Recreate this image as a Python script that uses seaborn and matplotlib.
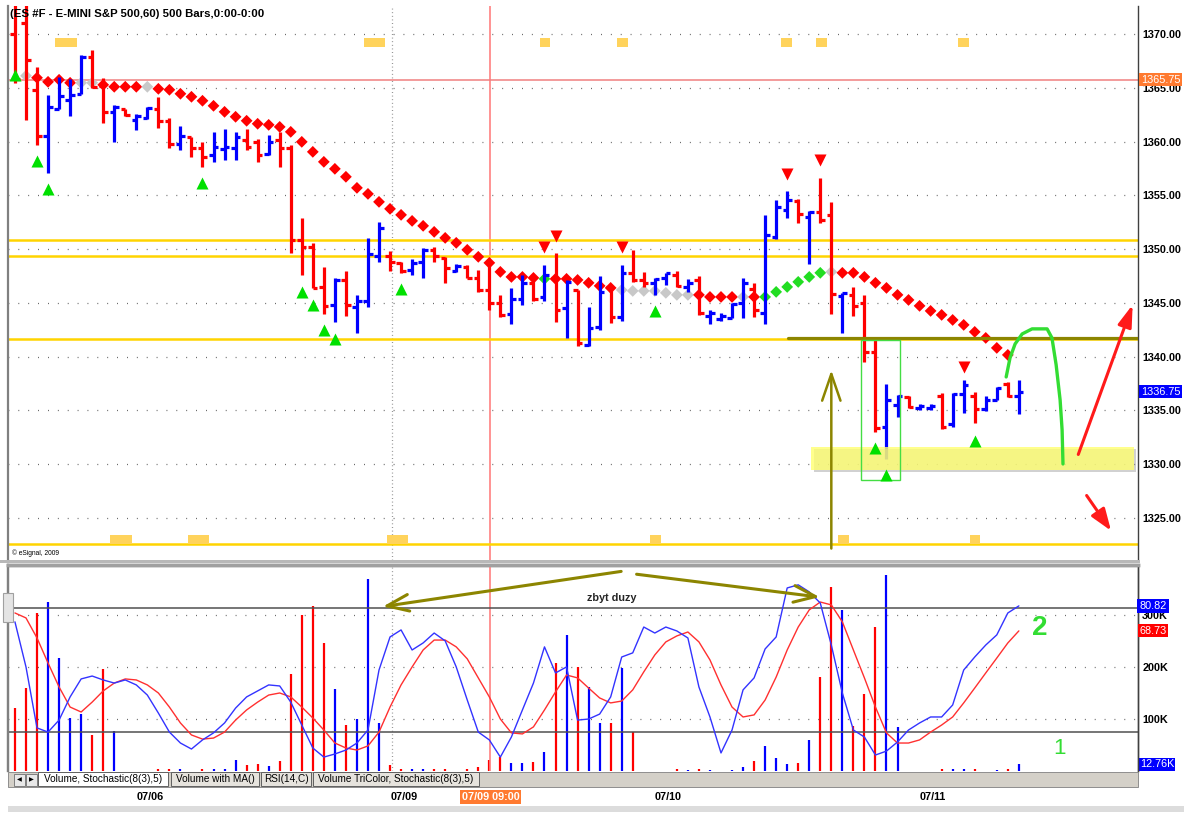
import numpy as np
import pandas as pd
import matplotlib.pyplot as plt
import matplotlib.patches as mpatches
import matplotlib.transforms as mtransforms
import seaborn as sns

sns.set_theme(style="white")
plt.rcParams['font.family'] = ['Liberation Sans', 'DejaVu Sans']

# ---------------- data (hourly bars, ES #F) ----------------
opens = [1370.0, 1371.0, 1364.8, 1360.5, 1363.0, 1363.9, 1364.4, 1367.9, 1365.2, 1362.7,
         1363.0, 1362.0, 1362.2, 1363.0, 1361.9, 1359.8, 1360.4, 1359.4, 1358.7, 1359.3,
         1359.4, 1360.1, 1360.0, 1358.8, 1360.1, 1359.4, 1350.8, 1350.2, 1346.5, 1344.8,
         1347.1, 1344.6, 1345.2, 1349.4, 1349.4, 1348.7, 1348.1, 1348.8, 1349.9, 1349.2,
         1348.0, 1348.3, 1347.3, 1346.2, 1345.0, 1344.0, 1345.4, 1346.8, 1345.5, 1347.3,
         1344.5, 1346.2, 1341.1, 1342.8, 1346.5, 1343.7, 1347.8, 1347.1, 1346.8, 1347.3,
         1347.6, 1346.5, 1347.1, 1343.8, 1343.5, 1343.6, 1345.0, 1346.3, 1344.1, 1351.1,
         1353.6, 1354.5, 1353.0, 1353.4, 1353.2, 1345.6, 1345.7, 1345.0, 1340.4, 1333.5,
         1335.5, 1336.2, 1335.2, 1335.2, 1336.3, 1333.7, 1336.5, 1336.3, 1335.1, 1336.0,
         1337.5, 1336.3]
highs = [1373.0, 1373.0, 1366.9, 1364.3, 1366.0, 1365.8, 1368.0, 1368.5, 1365.9, 1363.4,
         1363.0, 1362.6, 1363.2, 1364.1, 1362.2, 1361.4, 1360.4, 1360.0, 1360.9, 1361.2,
         1360.9, 1361.2, 1360.2, 1360.6, 1360.9, 1359.7, 1352.9, 1350.6, 1348.3, 1347.3,
         1348.0, 1345.7, 1351.0, 1352.5, 1349.8, 1348.8, 1349.1, 1350.1, 1350.2, 1349.3,
         1348.6, 1348.5, 1348.1, 1349.0, 1345.7, 1346.4, 1347.6, 1347.4, 1348.5, 1349.6,
         1347.1, 1346.2, 1344.6, 1347.5, 1346.5, 1348.5, 1349.9, 1347.9, 1347.3, 1347.8,
         1348.0, 1347.2, 1347.5, 1344.3, 1344.1, 1345.0, 1347.3, 1346.8, 1353.2, 1354.6,
         1355.4, 1354.7, 1353.5, 1356.6, 1354.4, 1345.9, 1346.5, 1345.7, 1341.5, 1337.5,
         1336.4, 1336.3, 1335.6, 1335.6, 1336.6, 1336.6, 1337.8, 1336.7, 1336.3, 1337.2,
         1337.6, 1337.8]
lows = [1365.4, 1362.0, 1359.7, 1357.1, 1363.0, 1362.4, 1364.4, 1365.0, 1361.7, 1360.0,
        1362.4, 1361.1, 1362.1, 1361.3, 1359.4, 1359.2, 1358.6, 1357.6, 1358.1, 1358.3,
        1358.3, 1359.2, 1358.1, 1358.7, 1357.6, 1349.6, 1347.6, 1346.4, 1344.0, 1343.2,
        1343.8, 1342.2, 1344.6, 1348.8, 1348.0, 1347.8, 1347.6, 1347.3, 1348.8, 1346.8,
        1347.9, 1347.3, 1346.0, 1344.3, 1343.7, 1343.0, 1344.8, 1345.2, 1345.2, 1343.2,
        1341.7, 1341.0, 1341.0, 1342.5, 1343.1, 1343.3, 1346.9, 1346.5, 1345.7, 1346.7,
        1346.5, 1346.0, 1343.9, 1343.0, 1343.3, 1343.6, 1343.6, 1343.7, 1343.0, 1350.9,
        1352.9, 1352.4, 1348.6, 1352.4, 1344.0, 1342.2, 1343.8, 1339.5, 1333.0, 1330.5,
        1334.4, 1335.2, 1335.0, 1335.0, 1333.3, 1333.5, 1334.8, 1333.8, 1334.9, 1336.0,
        1336.2, 1334.7]
closes = [1365.8, 1367.6, 1360.5, 1363.2, 1364.2, 1364.3, 1367.9, 1365.1, 1362.7, 1363.2,
          1362.5, 1362.4, 1363.1, 1361.9, 1359.8, 1360.5, 1359.4, 1358.6, 1359.5, 1359.5,
          1360.4, 1359.5, 1358.7, 1360.0, 1359.4, 1350.8, 1350.2, 1346.4, 1344.7, 1347.1,
          1344.8, 1345.2, 1349.5, 1352.0, 1348.8, 1348.0, 1348.7, 1349.9, 1349.4, 1348.2,
          1348.4, 1347.3, 1346.2, 1345.0, 1343.9, 1345.4, 1346.8, 1345.4, 1347.6, 1344.3,
          1346.9, 1341.3, 1342.7, 1346.0, 1343.7, 1347.8, 1347.1, 1346.8, 1347.2, 1347.8,
          1346.6, 1346.8, 1344.1, 1344.1, 1343.8, 1344.9, 1346.8, 1344.3, 1351.3, 1353.9,
          1354.6, 1353.3, 1353.4, 1352.7, 1345.8, 1345.9, 1344.7, 1340.4, 1333.4, 1336.0,
          1336.3, 1335.3, 1335.4, 1335.4, 1333.5, 1336.5, 1337.4, 1335.1, 1336.0, 1337.1,
          1336.3, 1336.75]

# volume in thousands
volume_k = [121, 160, 304, 325, 217, 102, 110, 69, 196, 77,
            0, 0, 0, 4, 4, 3, 0, 3, 3, 4,
            21, 12, 13, 10, 19, 187, 300, 317, 246, 158,
            88, 100, 369, 92, 12, 3, 3, 3, 3, 3,
            0, 3, 8, 21, 27, 15, 15, 17, 37, 208,
            262, 200, 162, 92, 92, 198, 75, 0, 0, 0,
            3, 2, 4, 2, 0, 2, 8, 19, 48, 25,
            13, 15, 60, 181, 354, 310, 87, 148, 277, 377,
            85, 0, 0, 0, 3, 3, 3, 3, 0, 2,
            3, 12.76]

stoch_k = [73.1, 51.3, 21.8, 19.8, 25.6, 36.8, 45.5, 46.9, 45.0, 43.5,
           45.0, 42.6, 37.7, 29.0, 19.8, 14.5, 11.6, 16.0, 19.4, 24.2,
           31.4, 36.8, 39.7, 42.6, 42.1, 34.3, 23.2, 12.1, 7.7, 9.2,
           11.1, 14.5, 20.8, 49.8, 65.8, 69.2, 59.5, 62.9, 67.7, 63.9,
           51.3, 35.3, 19.8, 16.0, 7.7, 17.4, 30.5, 43.5, 61.0, 48.4,
           51.3, 25.6, 26.1, 28.5, 36.8, 56.1, 58.1, 70.6, 67.7, 70.6,
           68.7, 65.3, 41.6, 27.1, 9.7, 20.8, 40.2, 46.0, 60.0, 65.8,
           89.5, 91.0, 87.6, 82.2, 61.9, 38.7, 20.8, 17.4, 8.7, 10.6,
           15.0, 20.8, 24.2, 27.1, 27.1, 32.9, 49.8, 56.1, 61.9, 66.8,
           77.4, 80.82]
stoch_d = [77.4, 75.0, 65.3, 53.2, 41.6, 31.9, 29.5, 34.3, 39.7, 43.5,
           45.5, 45.0, 42.6, 38.7, 31.9, 24.2, 18.4, 16.4, 16.9, 19.8,
           25.6, 30.5, 34.3, 37.7, 38.7, 36.8, 31.9, 26.6, 20.8, 14.5,
           12.1, 11.1, 13.1, 19.8, 31.9, 42.6, 51.3, 59.5, 64.3, 64.3,
           61.0, 55.2, 46.0, 36.8, 26.1, 19.4, 18.9, 22.3, 30.5, 39.2,
           47.4, 46.0, 41.1, 36.3, 33.9, 34.8, 40.2, 48.9, 57.1, 63.4,
           66.3, 68.2, 63.4, 54.7, 42.6, 31.9, 27.1, 28.1, 35.3, 46.4,
           59.5, 70.6, 78.9, 82.7, 81.3, 73.1, 59.5, 46.0, 31.9, 19.4,
           14.5, 14.5, 16.0, 19.8, 23.2, 27.1, 33.9, 41.1, 48.4, 55.6,
           62.9, 68.73]

# parabolic stop dots for bars 1..90 (r = short, g = long, n = neutral)
sar_price = [1366.11, 1365.93, 1365.55, 1365.74, 1365.46, 1365.46, 1365.46, 1365.27, 1365.09, 1365.09,
             1365.09, 1365.09, 1364.90, 1364.81, 1364.44, 1364.16, 1363.79, 1363.32, 1362.76, 1362.30,
             1361.93, 1361.65, 1361.55, 1361.36, 1360.90, 1359.97, 1359.04, 1358.11, 1357.46, 1356.72,
             1355.69, 1355.13, 1354.39, 1353.74, 1353.18, 1352.62, 1352.16, 1351.60, 1351.04, 1350.58,
             1349.93, 1349.28, 1348.72, 1347.88, 1347.41, 1347.41, 1347.32, 1347.23, 1347.23, 1347.23,
             1347.13, 1346.86, 1346.58, 1346.39, 1346.20, 1346.11, 1346.11, 1346.11, 1345.93, 1345.74,
             1345.74, 1345.74, 1345.55, 1345.55, 1345.55, 1345.55, 1345.55, 1345.55, 1346.02, 1346.48,
             1346.95, 1347.41, 1347.79, 1347.88, 1347.79, 1347.79, 1347.41, 1346.86, 1346.39, 1345.74,
             1345.27, 1344.72, 1344.25, 1343.88, 1343.41, 1342.95, 1342.30, 1341.74, 1340.81, 1340.16]
sar_state = ("nrrrrnnrrrrn"
             "rrrrrrrrrrrrrrrrrrrrrrrrrrrrrrrrrrr"
             "grrrrrrnnnnnnnrrrrnr"
             "ggggggn"
             "rrrrrrrrrrrrrrrr")

buy_bars = [0, 2, 3, 17, 26, 27, 28, 29, 35, 58, 78, 79, 87]
buy_price = [1366.2, 1358.2, 1355.6, 1356.1, 1346.0, 1344.8, 1342.5, 1341.6, 1346.3, 1344.2,
             1331.5, 1329.0, 1332.2]
sell_bars = [48, 49, 55, 70, 73, 86]
sell_price = [1350.2, 1351.2, 1350.2, 1357.0, 1358.3, 1339.0]

gold_levels = [1350.85, 1349.37, 1341.65, 1322.6]
ref_level = 1365.75
last_price = 1336.75

# session blocks (start bar, width in bars)
top_blocks = [(3.6, 2.0), (31.6, 1.9), (47.6, 0.9), (54.6, 1.0), (69.4, 1.0), (72.6, 1.0), (85.5, 1.0)]
bottom_blocks = [(8.6, 2.0), (15.7, 1.9), (33.7, 1.9), (57.6, 1.0), (74.6, 1.0), (86.6, 0.9)]

date_pos = [12.24, 35.27, 59.2, 83.2]
date_labels = ['07/06', '07/09', '07/10', '07/11']
day_line = 34.2
cursor_bar = 43.1

# hand drawn annotations (bar index, price)
green_curve_x = [89.85, 90.2, 90.66, 91.3, 92.2, 93.56, 94.0, 94.38, 94.74, 94.92, 95.0]
green_curve_y = [1338.11, 1339.88, 1341.18, 1342.11, 1342.58, 1342.58, 1341.74, 1339.23, 1335.97,
                 1333.18, 1330.02]

W, H = 1184, 815
RED = '#FF0000'
BLUE = '#0000FF'
GOLD = '#FFD400'
OLIVE = '#8C8500'
HAND_GREEN = '#33DD33'


def px_rect(x0, y0, x1, y1):
    return [x0 / W, 1 - y1 / H, (x1 - x0) / W, (y1 - y0) / H]


def fig_box(fig, x0, y0, x1, y1, **kw):
    fig.patches.append(mpatches.Rectangle((x0 / W, 1 - y1 / H), (x1 - x0) / W, (y1 - y0) / H,
                                          transform=fig.transFigure, figure=fig, **kw))


fig = plt.figure(figsize=(W / 100, H / 100), dpi=100)
ax = fig.add_axes(px_rect(8, 6, 1138, 560))
axv = fig.add_axes(px_rect(8, 565, 1138, 771))
axs = axv.twinx()

xlim = (-0.63, 101.8)

# ---------------- price panel ----------------
bars = pd.DataFrame({'bar': np.arange(len(opens)), 'open': opens, 'high': highs,
                     'low': lows, 'close': closes, 'vol': np.array(volume_k) * 1000})
bars['color'] = np.where(bars['close'] >= bars['open'], BLUE, RED)

ticks = np.arange(1325, 1371, 5)
for lv in ticks:
    ax.axhline(lv, color='#555555', lw=0.9, ls=(0, (0.7, 7.2)), zorder=1)
ax.axvline(day_line, color='#888888', lw=0.9, ls=(0, (0.7, 2.2)), zorder=1)
ax.axvline(cursor_bar, color='#FF8080', lw=1.2, zorder=1.5)
ax.axhline(ref_level, color='#F08080', lw=1.1, zorder=1.5)
for lv in gold_levels:
    ax.axhline(lv, color=GOLD, lw=1.8, zorder=1.6)

blend = mtransforms.blended_transform_factory(ax.transData, ax.transAxes)
for x0, w in top_blocks:
    ax.add_patch(mpatches.Rectangle((x0, 0.9257), w, 0.0165, transform=blend,
                                    facecolor='#FFD35C', edgecolor='none', zorder=2))
for x0, w in bottom_blocks:
    ax.add_patch(mpatches.Rectangle((x0, 0.028), w, 0.0165, transform=blend,
                                    facecolor='#FFD35C', edgecolor='none', zorder=2))

sar = pd.DataFrame({'bar': np.arange(1, len(sar_price) + 1), 'price': sar_price,
                    'state': list(sar_state)})
sns.scatterplot(data=sar, x='bar', y='price', hue='state',
                palette={'r': RED, 'g': '#22DD22', 'n': '#C8C8C8'},
                marker='D', s=36, linewidth=0, legend=False, ax=ax, zorder=2.5)

ax.vlines(bars['bar'], bars['low'], bars['high'], colors=bars['color'], lw=2.3, zorder=3)
ax.hlines(bars['open'], bars['bar'] - 0.42, bars['bar'], colors=bars['color'], lw=2.3, zorder=3)
ax.hlines(bars['close'], bars['bar'], bars['bar'] + 0.42, colors=bars['color'], lw=2.3, zorder=3)

# yellow zone + green box
ax.add_patch(mpatches.Rectangle((72.4, 1329.27), 29.2, 2.14, facecolor='#9A9A9A',
                                edgecolor='none', alpha=0.45, zorder=4.9))
ax.add_patch(mpatches.Rectangle((72.2, 1329.46), 29.2, 2.14, facecolor='#FFFF70',
                                edgecolor='none', alpha=0.8, zorder=5))
ax.add_patch(mpatches.Rectangle((76.7, 1328.5), 3.5, 13.05, fill=False,
                                edgecolor='#44DD44', lw=1.0, zorder=6))

sns.scatterplot(x=buy_bars, y=buy_price, marker='^', color='#00E000', s=75, linewidth=0, ax=ax, zorder=7)
sns.scatterplot(x=sell_bars, y=sell_price, marker='v', color=RED, s=75, linewidth=0, ax=ax, zorder=7)

ax.plot([70.1, xlim[1]], [1341.74, 1341.74], color=OLIVE, lw=2.3, zorder=5)
ax.annotate('', xy=(74.0, 1339.0), xytext=(74.0, 1321.9),
            arrowprops=dict(arrowstyle='->,head_length=1.6,head_width=0.55', color=OLIVE, lw=1.8),
            zorder=6)
ax.plot(green_curve_x, green_curve_y, color=HAND_GREEN, lw=2.4, solid_capstyle='round', zorder=8)
ax.annotate('', xy=(101.4, 1345.07), xytext=(96.3, 1330.66),
            arrowprops=dict(arrowstyle='-|>,head_length=1.1,head_width=0.35', color='#FF1A1A', lw=2.2),
            zorder=8)
ax.annotate('', xy=(99.5, 1323.6), xytext=(97.0, 1327.3),
            arrowprops=dict(arrowstyle='-|>,head_length=1.1,head_width=0.4', color='#FF1A1A', lw=2.2),
            zorder=8)

ax.text(0.002, 0.986, '(ES #F - E-MINI S&P 500,60) 500 Bars,0:00-0:00', transform=ax.transAxes,
        ha='left', va='center', fontsize=8.2, fontweight='bold', color='black', zorder=9)
ax.text(0.0035, 0.013, '\u00a9 eSignal, 2009', transform=ax.transAxes, ha='left', va='center',
        fontsize=4.8, color='black')

ax.set_xlim(*xlim)
ax.set_ylim(1321.09, 1372.6)
ax.set_xticks([])
ax.yaxis.tick_right()
ax.set_yticks(ticks)
ax.set_yticklabels([f'{v:.2f}' for v in ticks], fontsize=7.8, fontweight='bold', color='black')
ax.tick_params(axis='y', length=0, pad=3)
ax.set_xlabel('')
ax.set_ylabel('')
for side in ['top', 'bottom']:
    ax.spines[side].set_visible(False)
ax.spines['left'].set_color('#808080')
ax.spines['left'].set_linewidth(1.6)
ax.spines['right'].set_color('#404040')
ax.spines['right'].set_linewidth(1.0)

yblend = mtransforms.blended_transform_factory(ax.transAxes, ax.transData)
ax.text(1.0025, ref_level, f'{ref_level:.2f}', transform=yblend, ha='left', va='center',
        fontsize=7.8, color='white', bbox=dict(facecolor='#FF7A30', edgecolor='none', pad=1.0), zorder=10)
ax.text(1.0025, last_price, f'{last_price:.2f}', transform=yblend, ha='left', va='center',
        fontsize=7.8, color='white', bbox=dict(facecolor=BLUE, edgecolor='none', pad=1.0), zorder=10)

# ---------------- volume / stochastic panel ----------------
for lv in [100000, 200000, 300000]:
    axv.axhline(lv, color='#555555', lw=0.9, ls=(0, (0.7, 7.2)), zorder=1)
axv.axvline(day_line, color='#888888', lw=0.9, ls=(0, (0.7, 2.2)), zorder=1)
axv.vlines(bars['bar'], 0, bars['vol'], colors=bars['color'], lw=1.6, zorder=2)
axv.set_xlim(*xlim)
axv.set_ylim(0, 396000)
axv.yaxis.tick_right()
axv.set_yticks([100000, 200000, 300000])
axv.set_yticklabels(['100K', '200K', '300K'], fontsize=7.8, fontweight='bold', color='black')
axv.tick_params(axis='y', length=0, pad=3)
axv.set_xticks(date_pos)
axv.set_xticklabels(date_labels, fontsize=7.8, fontweight='bold', color='black')
axv.tick_params(axis='x', length=0, pad=15)
axv.set_xlabel('')
axv.set_ylabel('')

stoch = pd.DataFrame({'bar': np.arange(len(stoch_k)), 'k': stoch_k, 'd': stoch_d})
sns.lineplot(data=stoch, x='bar', y='d', color='#FF3030', lw=1.0, ax=axs, zorder=3)
sns.lineplot(data=stoch, x='bar', y='k', color='#3333FF', lw=1.0, ax=axs, zorder=3)
axs.axhline(80, color='#505050', lw=1.1, zorder=2)
axs.axhline(20, color='#505050', lw=1.1, zorder=2)
axs.axvline(cursor_bar, color='#FF8080', lw=1.2, zorder=1.5)
axs.set_ylim(0.97, 100.6)
axs.set_xlim(*xlim)
axs.set_yticks([])
axs.set_xlabel('')
axs.set_ylabel('')

axs.annotate('', xy=(33.1, 80.3), xytext=(55.2, 97.7),
             arrowprops=dict(arrowstyle='->,head_length=1.3,head_width=0.5', color=OLIVE, lw=2.2))
axs.annotate('', xy=(73.2, 84.9), xytext=(56.1, 96.3),
             arrowprops=dict(arrowstyle='->,head_length=1.3,head_width=0.5', color=OLIVE, lw=2.2))
axs.text(54.1, 84.7, 'zbyt duzy', ha='center', va='center', fontsize=7.8, fontweight='bold')
axs.text(92.9, 70.0, '2', ha='center', va='center', fontsize=20, color=HAND_GREEN, fontweight='bold')
axs.text(94.7, 12.0, '1', ha='center', va='center', fontsize=16, color=HAND_GREEN)

sblend = mtransforms.blended_transform_factory(axs.transAxes, axs.transData)
axs.text(1.0015, 80.82, '80.82', transform=sblend, ha='left', va='center', fontsize=7.8,
         color='white', bbox=dict(facecolor=BLUE, edgecolor='none', pad=1.6), zorder=10)
axs.text(1.0015, 68.73, '68.73', transform=sblend, ha='left', va='center', fontsize=7.8,
         color='white', bbox=dict(facecolor=RED, edgecolor='none', pad=1.0), zorder=10)
vblend = mtransforms.blended_transform_factory(axv.transAxes, axv.transData)
axv.text(1.0015, 12760, '12.76K', transform=vblend, ha='left', va='center', fontsize=7.8,
         color='white', bbox=dict(facecolor=BLUE, edgecolor='none', pad=1.0), zorder=10)

for a in [axv, axs]:
    a.spines['bottom'].set_visible(False)
    a.spines['top'].set_color('#A0A0A0')
    a.spines['top'].set_linewidth(2.5)
    a.spines['left'].set_color('#808080')
    a.spines['left'].set_linewidth(1.6)
    a.spines['right'].set_color('#404040')
    a.spines['right'].set_linewidth(1.0)

cursor_px = 8 + (cursor_bar - xlim[0]) / (xlim[1] - xlim[0]) * 1130
fig.text(cursor_px / W, 1 - 797 / H, '07/09 09:00', ha='center', va='center', fontsize=7.8,
         fontweight='bold', color='white', bbox=dict(facecolor='#FF7A30', edgecolor='none', pad=1.2))

# ---------------- window chrome ----------------
fig_box(fig, 0, 560, 1140, 563, facecolor='#B8B8B8', edgecolor='none')
fig_box(fig, 3, 593, 13, 622, facecolor='#E4E4E4', edgecolor='#A0A0A0', lw=0.8)
fig_box(fig, 8, 772, 1138, 787, facecolor='#D4D0C8', edgecolor='#808080', lw=0.6)
fig_box(fig, 8, 806, 1184, 812, facecolor='#DCDCDC', edgecolor='none')
fig_box(fig, 14, 774, 25, 786, facecolor='#E8E8E8', edgecolor='#707070', lw=0.6)
fig_box(fig, 26, 774, 37, 786, facecolor='#E8E8E8', edgecolor='#707070', lw=0.6)
fig.text(19.5 / W, 1 - 780 / H, '\u25c0', ha='center', va='center', fontsize=4.5,
         family=['DejaVu Sans'], color='black')
fig.text(31.5 / W, 1 - 780 / H, '\u25b6', ha='center', va='center', fontsize=4.5,
         family=['DejaVu Sans'], color='black')

tabs = [('Volume, Stochastic(8(3),5)', 38, 168, True),
        ('Volume with MA()', 171, 259, False),
        ('RSI(14,C)', 261, 311, False),
        ('Volume TriColor, Stochastic(8(3),5)', 313, 479, False)]
for label, x0, x1, active in tabs:
    fig_box(fig, x0, 772, x1, 786, facecolor='white' if active else '#E6E3DD',
            edgecolor='#606060', lw=0.7)
    fig.text((x0 + x1) / 2 / W, 1 - 779.5 / H, label, ha='center', va='center',
             fontsize=7.2, color='black')

fig.savefig('out.png', dpi=100)
plt.close(fig)
